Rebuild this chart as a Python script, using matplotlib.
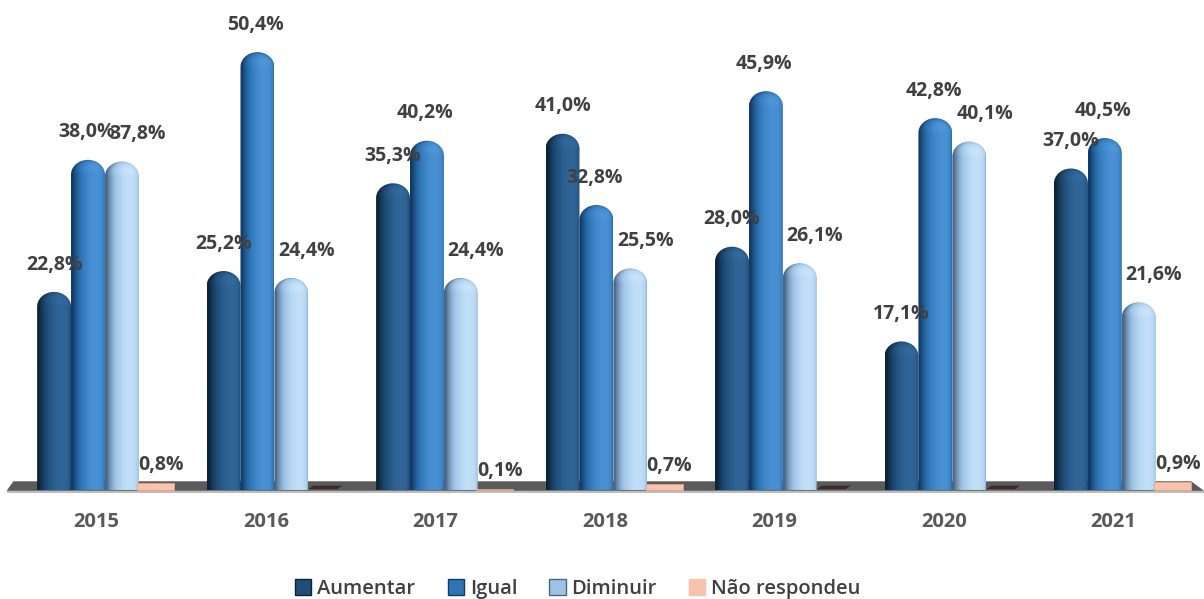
import numpy as np
import matplotlib.pyplot as plt
from matplotlib.path import Path
from matplotlib.patches import PathPatch, Polygon, Patch
from matplotlib.colors import to_rgb

plt.rcParams['font.family'] = ['Open Sans', 'DejaVu Sans']

# dados
anos = ['2015', '2016', '2017', '2018', '2019', '2020', '2021']
aumentar = [22.8, 25.2, 35.3, 41.0, 28.0, 17.1, 37.0]
igual = [38.0, 50.4, 40.2, 32.8, 45.9, 42.8, 40.5]
diminuir = [37.8, 24.4, 24.4, 25.5, 26.1, 40.1, 21.6]
nao_respondeu = [0.8, 0.0, 0.1, 0.7, 0.0, 0.0, 0.9]

series = ['Aumentar', 'Igual', 'Diminuir', 'Não respondeu']
# (escuro, medio, claro) para o sombreamento dos cilindros
cores = {
    'Aumentar': ('#0b2238', '#1f4e79', '#336a9c'),
    'Igual': ('#123a66', '#2e75b6', '#4d96d8'),
    'Diminuir': ('#4a6785', '#9dc3e6', '#c8e4fb'),
}
cor_nao = '#f8c3aa'
cor_zero = '#3d2b27'
cor_texto = '#404040'

fig = plt.figure(figsize=(12.04, 5.99), dpi=100)
ax = fig.add_axes([0, 98.6 / 599, 1, 500.4 / 599])
ax.set_xlim(-0.619, 6.485)
ax.set_ylim(-1.2, 56.4)
ax.axis('off')

w = 0.2
offsets = [-0.3, -0.1, 0.1, 0.3]
cap = 1.7  # altura da tampa arredondada (em %)

# piso
ax.add_patch(Polygon([(-0.54, 1.0), (6.41, 1.0), (6.485, -0.1), (-0.58, -0.1)],
                     closed=True, facecolor='#5a5a5a', edgecolor='none', zorder=1))
ax.add_patch(Polygon([(-0.58, -0.1), (6.485, -0.1), (6.485, -0.4), (-0.58, -0.4)],
                     closed=True, facecolor='#bdbdbd', edgecolor='none', zorder=1))


def ramp(c, s):
    d, m, l = (np.array(to_rgb(x)) for x in c)
    s = np.clip(s, 0, 1)[..., None]
    lo = d + (m - d) * (s / 0.6)
    hi = m + (l - m) * ((s - 0.6) / 0.4)
    return np.where(s < 0.6, lo, hi)


def cilindro(x0, h, c):
    nx, ny = 60, 300
    u = np.linspace(-1, 1, nx)
    yy = np.linspace(0, h, ny)
    U, Y = np.meshgrid(u, yy)
    wv = np.clip((Y - (h - cap)) / cap, 0, 1)
    nz = np.sqrt(np.clip(1 - U ** 2 - wv ** 2, 0, 1))
    luz = np.array([0.45, 0.35, 0.82])
    luz = luz / np.linalg.norm(luz)
    s = U * luz[0] + wv * luz[1] + nz * luz[2]
    s = s * 0.95 + 0.05
    img = ramp(c, s)
    im = ax.imshow(img, extent=[x0, x0 + w, 0, h], origin='lower',
                   aspect='auto', interpolation='bilinear', zorder=3)
    # contorno: retangulo + meia elipse no topo
    t = np.linspace(np.pi, 0, 40)
    xs = [x0, x0] + list(x0 + w / 2 + w / 2 * np.cos(t)) + [x0 + w, x0]
    ys = [0, h - cap] + list(h - cap + cap * np.sin(t)) + [0, 0]
    pp = PathPatch(Path(np.column_stack([xs, ys])), facecolor='none',
                   edgecolor='none', transform=ax.transData)
    ax.add_patch(pp)
    im.set_clip_path(pp)


def rotulo(v):
    return f'{v:.1f}%'.replace('.', ',')


x = np.arange(len(anos))
dados = [aumentar, igual, diminuir]
desloc_rotulo = [0.0, -0.01, 0.09]
for k, vals in enumerate(dados):
    for i, v in enumerate(vals):
        x0 = x[i] + offsets[k] - w / 2
        cilindro(x0, v, cores[series[k]])
        ax.text(x[i] + offsets[k] + desloc_rotulo[k], v + 2.0, rotulo(v),
                ha='center', va='bottom', fontsize=14, fontweight='bold',
                color=cor_texto, zorder=6)

for i, v in enumerate(nao_respondeu):
    xc = x[i] + offsets[3]
    if v > 0:
        ax.bar(xc, v, width=w * 1.1, bottom=0, color=cor_nao, edgecolor='#e3a58c',
               linewidth=0.6, zorder=3)
        ax.text(xc + 0.03, v + 0.9, rotulo(v), ha='center', va='bottom',
                fontsize=14, fontweight='bold', color=cor_texto, zorder=6)
    else:
        ax.add_patch(Polygon([(xc - w / 2, 0.1), (xc + w / 2 - 0.03, 0.1),
                              (xc + w / 2, 0.5), (xc - w / 2 + 0.03, 0.5)],
                             closed=True, facecolor=cor_zero, edgecolor='none', zorder=2))

for i, a in enumerate(anos):
    ax.text(x[i] - 0.05, -3.7, a, ha='center', va='center', fontsize=14.5,
            fontweight='bold', color='#595959')

handles = [Patch(facecolor=cores['Aumentar'][1], edgecolor=cores['Aumentar'][0]),
           Patch(facecolor=cores['Igual'][1], edgecolor=cores['Igual'][0]),
           Patch(facecolor=cores['Diminuir'][1], edgecolor=cores['Diminuir'][0]),
           Patch(facecolor=cor_nao, edgecolor=cor_nao)]
leg = fig.legend(handles, series, loc='center', bbox_to_anchor=(0.48, 0.017), ncol=4,
                 frameon=False, handlelength=0.8, handleheight=0.8,
                 handletextpad=0.3, columnspacing=1.6,
                 prop={'size': 14.5, 'weight': 'semibold'})
for t in leg.get_texts():
    t.set_color(cor_texto)

fig.savefig('out.png', dpi=100)
